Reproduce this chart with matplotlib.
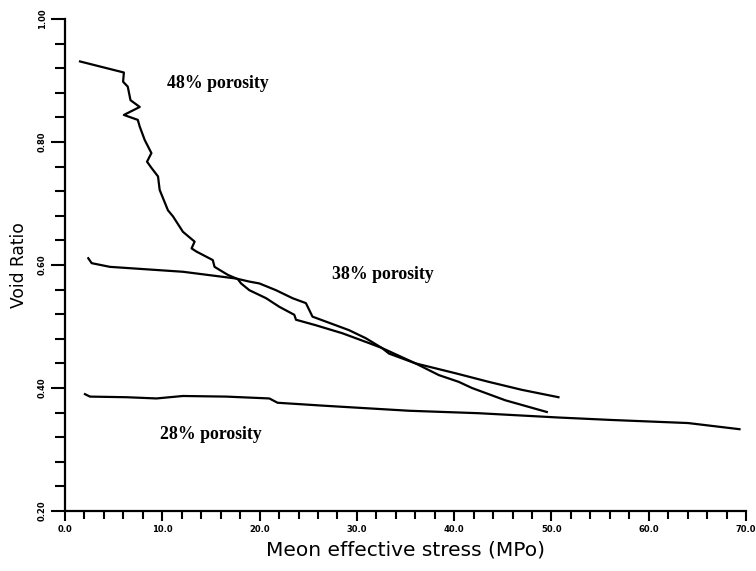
import matplotlib
matplotlib.use("Agg")
import matplotlib.pyplot as plt
import matplotlib.transforms as mtransforms
from matplotlib.ticker import MultipleLocator, FormatStrFormatter

# Mean effective stress (MPa) and void ratio for the three porosities
stress_48 = [1.54, 6.05, 5.97, 6.45, 6.73, 7.68, 6.05, 7.48, 7.68, 8.20, 8.88, 8.43,
             8.88, 9.56, 9.73, 10.58, 11.10, 12.12, 13.32, 13.01, 13.49, 15.19, 15.37,
             16.73, 17.76, 18.10, 18.95, 20.67, 22.03, 23.57, 23.74, 25.79, 28.51,
             31.25, 32.58, 36.03, 38.42, 40.47, 41.83, 45.26, 49.52]
void_48 = [0.931, 0.913, 0.898, 0.890, 0.868, 0.857, 0.844, 0.836, 0.825, 0.803, 0.782,
           0.768, 0.758, 0.744, 0.722, 0.689, 0.679, 0.654, 0.638, 0.627, 0.622, 0.608,
           0.597, 0.584, 0.577, 0.570, 0.559, 0.546, 0.532, 0.519, 0.511, 0.502, 0.489,
           0.473, 0.465, 0.440, 0.421, 0.410, 0.400, 0.380, 0.361]

stress_38 = [2.39, 2.74, 4.61, 12.12, 17.59, 18.95, 19.98, 21.69, 23.39, 24.76, 25.44,
             26.81, 29.20, 30.91, 32.58, 33.30, 36.03, 40.13, 43.55, 46.96, 50.72]
void_38 = [0.611, 0.603, 0.597, 0.589, 0.578, 0.573, 0.570, 0.559, 0.546, 0.538, 0.516,
           0.508, 0.494, 0.481, 0.465, 0.456, 0.440, 0.424, 0.410, 0.397, 0.385]

stress_28 = [2.05, 2.56, 6.32, 9.40, 12.12, 16.57, 21.00, 21.85, 26.81, 35.35, 42.52,
             50.72, 56.18, 64.04, 69.33]
void_28 = [0.390, 0.386, 0.385, 0.383, 0.387, 0.386, 0.383, 0.376, 0.371, 0.363, 0.359,
           0.352, 0.348, 0.343, 0.333]

curve_labels = ["48% porosity", "38% porosity", "28% porosity"]
label_pos = [(10.45, 0.895), (27.46, 0.584), (9.73, 0.325)]

x_label = "Meon effective stress (MPo)"
y_label = "Void Ratio"

fig = plt.figure(figsize=(7.56, 5.71), dpi=100)
ax = fig.add_axes([0.086, 0.1051, 0.9008, 0.8616])

lw = 1.6
for xs, ys in [(stress_48, void_48), (stress_38, void_38), (stress_28, void_28)]:
    ax.plot(xs, ys, color="black", lw=lw, solid_joinstyle="round")

for text, (tx, ty) in zip(curve_labels, label_pos):
    ax.text(tx, ty, text, ha="left", va="center", fontsize=12.8,
            family="Liberation Serif", weight="bold")

ax.set_xlim(0, 70)
ax.set_ylim(0.2, 1.0)
ax.spines["top"].set_visible(False)
ax.spines["right"].set_visible(False)
ax.spines["left"].set_linewidth(lw)
ax.spines["bottom"].set_linewidth(lw)

ax.xaxis.set_major_locator(MultipleLocator(10))
ax.xaxis.set_minor_locator(MultipleLocator(2))
ax.yaxis.set_major_locator(MultipleLocator(0.2))
ax.yaxis.set_minor_locator(MultipleLocator(0.04))
ax.xaxis.set_major_formatter(FormatStrFormatter("%.1f"))
ax.yaxis.set_major_formatter(FormatStrFormatter("%.2f"))

ax.tick_params(axis="x", which="major", direction="out", length=7, width=1.5, pad=3)
ax.tick_params(axis="x", which="minor", direction="out", length=6, width=1.5)
ax.tick_params(axis="y", which="major", direction="out", length=10, width=1.5, pad=3)
ax.tick_params(axis="y", which="minor", direction="out", length=7, width=1.5)

for lab in ax.get_xticklabels():
    lab.set_fontsize(6)
    lab.set_fontweight("bold")
for lab in ax.get_yticklabels():
    lab.set_fontsize(6)
    lab.set_fontweight("bold")
    lab.set_rotation(90)
    lab.set_va("center")

# nudge the last x tick label so it stays inside the canvas
last = ax.get_xticklabels()[-1]
last.set_transform(last.get_transform() +
                   mtransforms.ScaledTranslation(-3 / 100, 0, fig.dpi_scale_trans))

ax.set_xlabel(x_label, fontsize=14.5, labelpad=5)
ax.set_ylabel(y_label, fontsize=12.3, labelpad=7)

fig.savefig("out.png", dpi=100)
